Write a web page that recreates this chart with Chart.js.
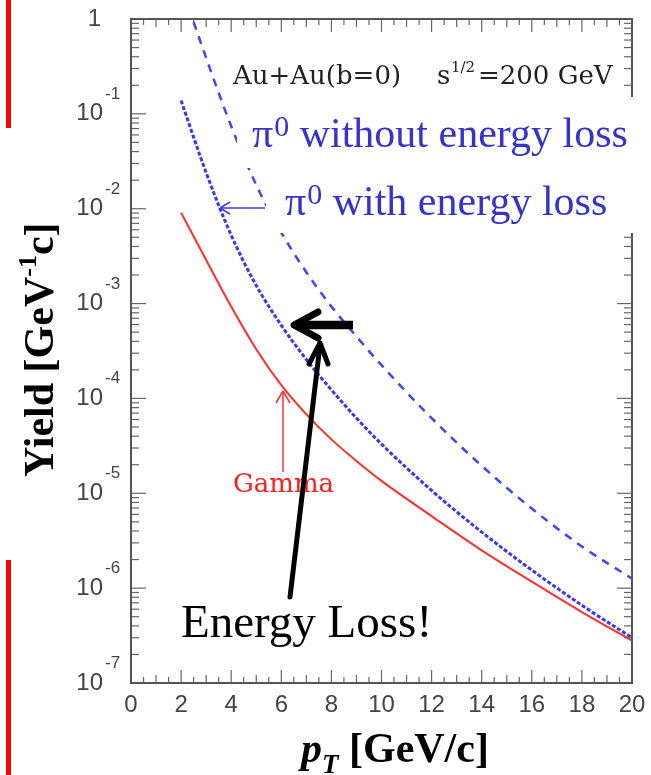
<!DOCTYPE html>
<html>
<head>
<meta charset="utf-8">
<script src="https://cdn.jsdelivr.net/npm/chart.js@4.4.1/dist/chart.umd.min.js"></script>
<style>
  html, body { margin: 0; padding: 0; background: #fff; }
</style>
</head>
<body>
<canvas id="yieldChart" width="651" height="775"></canvas>
<script>
// pT (GeV/c) and yields for each spectrum
const ptGamma = [2, 3, 4, 5, 6, 7, 8, 9, 10, 12, 14, 16, 18, 20];
const yieldGamma = [9.1e-3, 2.88e-3, 9.3e-4, 3.3e-4, 1.38e-4, 6.8e-5, 3.7e-5, 2.19e-5, 1.35e-5, 5.75e-6, 2.5e-6, 1.17e-6, 5.6e-7, 2.8e-7];

const ptPiLoss = [2, 3, 4, 5, 6, 7, 8, 9, 10, 12, 14, 16, 18, 20];
const yieldPiLoss = [0.138, 2.4e-2, 5.25e-3, 1.55e-3, 5.9e-4, 2.57e-4, 1.23e-4, 6.2e-5, 3.3e-5, 1.07e-5, 3.9e-6, 1.55e-6, 6.6e-7, 3.0e-7];

const ptPiNoLoss = [2.5, 3, 4, 5, 6, 7, 8, 9, 10, 12, 14, 16, 18, 20];
const yieldPiNoLoss = [0.93, 0.389, 7.4e-2, 1.78e-2, 5.6e-3, 2.14e-3, 9.3e-4, 4.5e-4, 2.24e-4, 6.2e-5, 1.95e-5, 6.9e-6, 2.75e-6, 1.26e-6];

const xTicks = [0, 2, 4, 6, 8, 10, 12, 14, 16, 18, 20];
const yDecades = [-7, -6, -5, -4, -3, -2, -1, 0];

function toPoints(xs, ys) {
    return xs.map((x, i) => ({ x: x, y: ys[i] }));
}

function line(ctx, x1, y1, x2, y2) {
    ctx.beginPath();
    ctx.moveTo(x1, y1);
    ctx.lineTo(x2, y2);
    ctx.stroke();
}

// frame, inward ticks, labels and annotations
const overlay = {
    id: 'overlay',
    afterDatasetsDraw(chart) {
        const ctx = chart.ctx;
        const a = chart.chartArea;
        const xs = chart.scales.x;
        const ys = chart.scales.y;
        ctx.save();

        // tick marks on all four sides
        ctx.strokeStyle = '#666';
        ctx.lineWidth = 1.2;
        for (let v = 0; v <= 20; v += 0.5) {
            const px = xs.getPixelForValue(v);
            const len = v % 2 === 0 ? 13 : (v % 1 === 0 ? 8 : 6);
            line(ctx, px, a.bottom, px, a.bottom - len);
            line(ctx, px, a.top, px, a.top + len);
        }
        yDecades.forEach(d => {
            const py = ys.getPixelForValue(Math.pow(10, d));
            line(ctx, a.left, py, a.left + 15, py);
            line(ctx, a.right, py, a.right - 15, py);
            if (d === 0) return;
            for (let m = 2; m <= 9; m++) {
                const pm = ys.getPixelForValue(m * Math.pow(10, d));
                line(ctx, a.left, pm, a.left + 8, pm);
                line(ctx, a.right, pm, a.right - 8, pm);
            }
        });

        ctx.strokeStyle = '#555';
        ctx.lineWidth = 2;
        ctx.strokeRect(a.left, a.top, a.width, a.height);

        // x tick labels
        ctx.fillStyle = '#444';
        ctx.font = '24px "Liberation Sans"';
        ctx.textAlign = 'center';
        ctx.textBaseline = 'middle';
        xTicks.forEach(v => {
            ctx.fillText(String(v), xs.getPixelForValue(v), a.bottom + 22);
        });

        // y tick labels as powers of ten
        yDecades.forEach(d => {
            const py = ys.getPixelForValue(Math.pow(10, d));
            ctx.font = '24px "Liberation Sans"';
            ctx.textAlign = 'right';
            ctx.textBaseline = 'middle';
            if (d === 0) {
                ctx.fillText('1', a.left - 30, py);
                return;
            }
            ctx.fillText('10', a.left - 28, py);
            ctx.font = '17px "Liberation Sans"';
            ctx.textAlign = 'left';
            ctx.textBaseline = 'alphabetic';
            ctx.fillText('-' + (-d), a.left - 26, py - 15);
        });

        // boxes behind the series names
        ctx.fillStyle = '#fff';
        ctx.fillRect(237, 97, 651 - 237, 71);
        ctx.fillRect(266, 168, 651 - 266, 65);

        ctx.textAlign = 'left';
        ctx.textBaseline = 'alphabetic';

        // collision system
        ctx.fillStyle = '#222';
        ctx.font = '26px "DejaVu Serif"';
        ctx.fillText('Au+Au(b=0)', 233, 84);
        ctx.fillText('s', 437, 84);
        ctx.font = '15px "DejaVu Serif"';
        ctx.fillText('1/2', 451, 72);
        ctx.font = '26px "DejaVu Serif"';
        ctx.fillText('=200 GeV', 478, 84);

        // pi0 series names
        const blue = '#3434cc';
        ctx.fillStyle = blue;
        [['without energy loss', 252, 147], ['with energy loss', 285, 215]].forEach(([txt, x0, base]) => {
            ctx.font = '42px "Liberation Serif"';
            ctx.fillText('\u03c0', x0, base);
            let w = ctx.measureText('\u03c0').width;
            ctx.font = '30px "Liberation Serif"';
            ctx.fillText('0', x0 + w + 1, base - 11);
            w += ctx.measureText('0').width + 1;
            ctx.font = '42px "Liberation Serif"';
            ctx.fillText(' ' + txt, x0 + w, base);
        });

        // pointer to the quenched pi0 curve
        ctx.strokeStyle = '#3a3ae0';
        ctx.lineWidth = 1.5;
        line(ctx, 265, 208, 220, 208);
        line(ctx, 220, 208, 230, 202);
        line(ctx, 220, 208, 230, 214);

        // gamma label and pointer
        ctx.strokeStyle = '#ff3333';
        ctx.fillStyle = '#ff2020';
        line(ctx, 283, 472, 283, 391);
        line(ctx, 283, 391, 276, 403);
        line(ctx, 283, 391, 290, 403);
        ctx.font = '26px "DejaVu Serif"';
        ctx.fillText('Gamma', 233, 492);

        // energy loss arrows
        ctx.strokeStyle = '#000';
        ctx.lineWidth = 8.5;
        ctx.lineCap = 'butt';
        line(ctx, 353, 325, 300, 325);
        ctx.lineCap = 'round';
        ctx.lineJoin = 'round';
        ctx.lineWidth = 7;
        ctx.beginPath();
        ctx.moveTo(318, 312);
        ctx.lineTo(294, 325);
        ctx.lineTo(318, 338);
        ctx.stroke();

        ctx.lineWidth = 5;
        line(ctx, 290, 597, 320, 345);
        ctx.beginPath();
        ctx.moveTo(309, 364);
        ctx.lineTo(320, 343);
        ctx.lineTo(328, 364);
        ctx.stroke();

        ctx.fillStyle = '#000';
        ctx.font = '47px "Liberation Serif"';
        ctx.fillText('Energy Loss!', 181, 637);

        // axis titles
        ctx.save();
        ctx.translate(53, 477);
        ctx.rotate(-Math.PI / 2);
        ctx.font = 'bold 42px "Liberation Serif"';
        ctx.fillText('Yield [GeV', 0, 0);
        let yw = ctx.measureText('Yield [GeV').width;
        ctx.font = 'bold 26px "Liberation Serif"';
        ctx.fillText('-1', yw, -17);
        yw += ctx.measureText('-1').width;
        ctx.font = 'bold 42px "Liberation Serif"';
        ctx.fillText('c]', yw, 0);
        ctx.restore();

        ctx.font = 'bold italic 42px "Liberation Serif"';
        ctx.fillText('p', 301, 762);
        let xw = 301 + ctx.measureText('p').width;
        ctx.font = 'bold italic 27px "Liberation Serif"';
        ctx.fillText('T', xw, 773);
        xw += ctx.measureText('T').width;
        ctx.font = 'bold 42px "Liberation Serif"';
        ctx.fillText(' [GeV/c]', xw, 762);

        // red bars at the left edge
        ctx.fillStyle = '#ff0000';
        ctx.fillRect(6, 0, 5, 128);
        ctx.fillRect(6, 560, 5, 215);

        ctx.restore();
    }
};

new Chart(document.getElementById('yieldChart').getContext('2d'), {
    type: 'line',
    data: {
        datasets: [{
            label: 'Gamma',
            data: toPoints(ptGamma, yieldGamma),
            borderColor: '#ff3030',
            borderWidth: 2,
            pointRadius: 0,
            cubicInterpolationMode: 'monotone'
        }, {
            label: '\u03c00 with energy loss',
            data: toPoints(ptPiLoss, yieldPiLoss),
            borderColor: '#3838ee',
            borderWidth: 3,
            borderDash: [4, 2],
            pointRadius: 0,
            cubicInterpolationMode: 'monotone'
        }, {
            label: '\u03c00 without energy loss',
            data: toPoints(ptPiNoLoss, yieldPiNoLoss),
            borderColor: '#4046f0',
            borderWidth: 2.5,
            borderDash: [8, 7],
            pointRadius: 0,
            cubicInterpolationMode: 'monotone'
        }]
    },
    options: {
        responsive: false,
        animation: false,
        devicePixelRatio: 1,
        layout: { padding: { left: 131, top: 19, right: 19, bottom: 92 } },
        scales: {
            x: { type: 'linear', min: 0, max: 20, display: false },
            y: { type: 'logarithmic', min: 1e-7, max: 1, display: false }
        },
        plugins: {
            legend: { display: false },
            tooltip: { enabled: false }
        }
    },
    plugins: [overlay]
});
</script>
</body>
</html>
